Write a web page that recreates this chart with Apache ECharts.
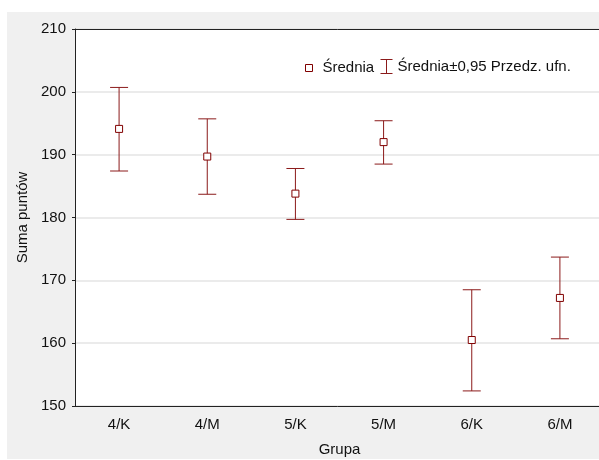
<!DOCTYPE html>
<html>
<head>
<meta charset="utf-8">
<script src="https://cdn.jsdelivr.net/npm/echarts@6/dist/echarts.min.js"></script>
<style>
html,body{margin:0;padding:0;background:#fff;}
#c{width:599px;height:460px;}
</style>
</head>
<body>
<div id="c"></div>
<script>
var categories = ['4/K', '4/M', '5/K', '5/M', '6/K', '6/M'];
var means = [194.1, 189.7, 183.8, 192.0, 160.5, 167.2];
var lower = [187.4, 183.7, 179.7, 188.5, 152.4, 160.7];
var upper = [200.7, 195.7, 187.8, 195.4, 168.5, 173.7];
var yTicks = {min: 150, max: 210, interval: 10};

var FONT = '"Liberation Sans", Arial, sans-serif';
var RED = '#8b1a1a';
var SQ = '#800000';
var FS = 15;

var errData = categories.map(function (c, i) { return [i, lower[i], upper[i]]; });
var meanData = categories.map(function (c, i) { return [i, means[i]]; });

var chart = echarts.init(document.getElementById('c'), null, {renderer: 'canvas'});
chart.setOption({
  backgroundColor: '#ffffff',
  animation: false,
  textStyle: {fontFamily: FONT},
  graphic: [{
    type: 'rect', z: -10, silent: true,
    shape: {x: 7, y: 12, width: 600, height: 447},
    style: {fill: '#f0f0f0'}
  }],
  grid: {left: 75, top: 29, width: 529, height: 377, show: true, backgroundColor: '#ffffff',
    borderWidth: 0, containLabel: false, outerBoundsMode: 'none'},
  legend: [{
    left: 305, top: 60.5, itemWidth: 12, itemHeight: 7, itemGap: 5, padding: 0,
    textStyle: {fontFamily: FONT, fontSize: FS, color: '#111'},
    data: [{name: 'Średnia', icon: 'path://M0,0 L7,0 L7,7 L0,7 Z M12,0',
      itemStyle: {color: '#fff', borderColor: SQ, borderWidth: 1}}]
  }, {
    left: 378, top: 57, itemWidth: 12, itemHeight: 14, itemGap: 5, padding: 0,
    itemStyle: {color: 'none', borderColor: RED, borderWidth: 1},
    lineStyle: {color: RED, width: 1},
    textStyle: {fontFamily: FONT, fontSize: FS, color: '#111'},
    data: [{name: 'Średnia±0,95 Przedz. ufn.', icon: 'path://M0,0 H12 M6,0 V14 M0,14 H12',
      itemStyle: {color: 'none', borderColor: RED, borderWidth: 1}}]
  }],
  xAxis: [{
    type: 'category', data: categories, position: 'bottom',
    name: 'Grupa', nameLocation: 'middle', nameGap: 36,
    nameTextStyle: {fontFamily: FONT, fontSize: FS, color: '#111'},
    axisLine: {lineStyle: {color: '#222', width: 1}},
    axisTick: {alignWithLabel: true, inside: true, length: 3, lineStyle: {color: '#222'}},
    axisLabel: {fontFamily: FONT, fontSize: FS, color: '#111', margin: 11},
    splitLine: {show: false}
  }, {
    type: 'category', data: categories, position: 'top',
    axisLine: {lineStyle: {color: '#222', width: 1}},
    axisTick: {alignWithLabel: true, inside: true, length: 3, lineStyle: {color: '#222'}},
    axisLabel: {show: false},
    splitLine: {show: false}
  }],
  yAxis: {
    type: 'value', min: yTicks.min, max: yTicks.max, interval: yTicks.interval,
    name: 'Suma puntów', nameLocation: 'middle', nameGap: 45,
    nameTextStyle: {fontFamily: FONT, fontSize: FS, color: '#111'},
    axisLine: {show: true, lineStyle: {color: '#222', width: 1}},
    axisTick: {show: true, length: 3, lineStyle: {color: '#222'}},
    axisLabel: {fontFamily: FONT, fontSize: FS, color: '#111', margin: 9},
    splitLine: {show: true, lineStyle: {color: '#e4e4e4', width: 1.5}}
  },
  series: [{
    name: 'Średnia±0,95 Przedz. ufn.',
    type: 'custom',
    xAxisIndex: 0,
    data: errData,
    itemStyle: {color: RED, borderColor: RED},
    renderItem: function (params, api) {
      var x = api.coord([api.value(0), api.value(1)])[0];
      var lo = api.coord([api.value(0), api.value(1)])[1];
      var hi = api.coord([api.value(0), api.value(2)])[1];
      var hw = 9;
      var st = {stroke: RED, lineWidth: 1, fill: null};
      return {
        type: 'group',
        children: [
          {type: 'line', shape: {x1: x, y1: hi, x2: x, y2: lo}, style: st},
          {type: 'line', shape: {x1: x - hw, y1: hi, x2: x + hw, y2: hi}, style: st},
          {type: 'line', shape: {x1: x - hw, y1: lo, x2: x + hw, y2: lo}, style: st}
        ]
      };
    },
    z: 2
  }, {
    name: 'Średnia',
    type: 'scatter',
    xAxisIndex: 0,
    data: meanData,
    symbol: 'rect',
    symbolSize: 7,
    itemStyle: {color: '#ffffff', borderColor: SQ, borderWidth: 1, opacity: 1},
    z: 3
  }]
});
</script>
</body>
</html>
